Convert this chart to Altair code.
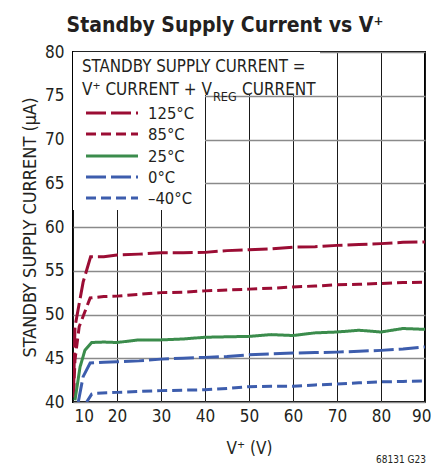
import altair as alt
import pandas as pd

# ---- data ----
series_names = ["125°C", "85°C", "25°C", "0°C", "–40°C"]

v_125 = [10.1, 10.45, 12.3, 14.0, 17, 20, 25, 30, 35, 40, 45, 50, 55, 60, 65, 70, 75, 80, 85, 90]
i_125 = [40.5, 48.6, 53.7, 56.6, 56.6, 56.8, 56.9, 57.05, 57.05, 57.1, 57.3, 57.4, 57.5, 57.7, 57.75, 57.9, 58.0, 58.1, 58.25, 58.3]

v_85 = [10.15, 10.45, 11.4, 13.9, 17, 20, 25, 30, 35, 40, 45, 50, 55, 60, 65, 70, 75, 80, 85, 90]
i_85 = [41.0, 44.8, 48.6, 51.9, 52.05, 52.1, 52.3, 52.5, 52.55, 52.7, 52.8, 52.9, 53.0, 53.15, 53.25, 53.4, 53.45, 53.55, 53.65, 53.7]

v_25 = [10.45, 11.6, 12.7, 14.25, 17, 20, 25, 30, 35, 40, 45, 50, 55, 60, 65, 70, 75, 80, 85, 90]
i_25 = [40.2, 44.0, 45.9, 46.8, 46.85, 46.8, 47.1, 47.1, 47.2, 47.4, 47.45, 47.5, 47.7, 47.6, 47.9, 48.0, 48.2, 48.0, 48.4, 48.3]

v_0 = [11.2, 12.3, 13.9, 17, 20, 25, 30, 35, 40, 45, 50, 55, 60, 65, 70, 75, 80, 85, 90]
i_0 = [40.0, 42.9, 44.45, 44.55, 44.6, 44.7, 44.9, 45.0, 45.1, 45.2, 45.4, 45.5, 45.6, 45.65, 45.7, 45.8, 45.9, 46.05, 46.3]

v_m40 = [13.1, 14.25, 15, 20, 25, 30, 35, 40, 45, 50, 55, 60, 65, 70, 75, 80, 85, 90]
i_m40 = [40.0, 40.9, 41.0, 41.1, 41.2, 41.3, 41.35, 41.4, 41.55, 41.75, 41.8, 41.8, 41.95, 42.05, 42.2, 42.3, 42.35, 42.4]

x_ticks = [10, 20, 30, 40, 50, 60, 70, 80, 90]
y_ticks = [40, 45, 50, 55, 60, 65, 70, 75, 80]

# ---- build table ----
rows = []
for name, vs, cs in zip(series_names, [v_125, v_85, v_25, v_0, v_m40], [i_125, i_85, i_25, i_0, i_m40]):
    for k, (v, c) in enumerate(zip(vs, cs)):
        rows.append({"series": name, "V": v, "I": c, "order": k})
df = pd.DataFrame(rows)

FONT = "'DejaVu Sans Condensed', Roboto, 'Liberation Sans', sans-serif"
TXT = "#231f20"
RED = "#9b0d34"
GREEN = "#3b8c4c"
BLUE = "#3d5dad"
LONG = [20, 5]
SHORT = [10, 5]

color_scale = alt.Scale(domain=series_names, range=[RED, RED, GREEN, BLUE, BLUE])
dash_scale = alt.Scale(domain=series_names, range=[LONG, SHORT, [1, 0], LONG, SHORT])

color_enc = alt.Color("series:N", scale=color_scale, legend=None)
dash_enc = alt.StrokeDash("series:N", scale=dash_scale, legend=None)

x_enc = alt.X("V:Q", scale=alt.Scale(domain=[10, 90], nice=False, zero=False),
              axis=alt.Axis(values=x_ticks, title="V⁺ (V)", grid=True, gridColor="#1a1a1a",
                            gridWidth=1, domain=False, ticks=False, labelFont=FONT,
                            labelFontSize=17, labelColor=TXT, labelPadding=6,
                            labelAlign=alt.expr("datum.value == 10 ? 'left' : datum.value == 90 ? 'right' : 'center'"),
                            labelOffset=alt.expr("datum.value == 90 ? 6 : datum.value == 10 ? 1 : 0"),
                            titleFont=FONT, titleFontSize=17, titleFontWeight="normal",
                            titleColor=TXT, titlePadding=16))
y_enc = alt.Y("I:Q", scale=alt.Scale(domain=[40, 80], nice=False, zero=False),
              axis=alt.Axis(values=y_ticks, title="STANDBY SUPPLY CURRENT (μA)", grid=True,
                            gridColor="#8a8a8a", gridWidth=1.5, domain=False, ticks=False,
                            labelFont=FONT, labelFontSize=17, labelColor=TXT, labelPadding=9,
                            titleFont=FONT, titleFontSize=18, titleFontWeight="normal",
                            titleColor=TXT, titlePadding=5))

lines = alt.Chart(df).mark_line(strokeWidth=3, clip=True).encode(
    x=x_enc, y=y_enc, color=color_enc, strokeDash=dash_enc, order="order:Q"
)

blank = pd.DataFrame({"a": [0]})

# white legend box (L shape) covering grid
box1 = alt.Chart(blank).mark_rect(color="white").encode(
    x=alt.value(0), x2=alt.value(247), y=alt.value(0), y2=alt.value(43))
box2 = alt.Chart(blank).mark_rect(color="white").encode(
    x=alt.value(0), x2=alt.value(132), y=alt.value(0), y2=alt.value(158))

layers = [box1, box2, lines]

def txt(s, x, y, size=17, align="left", baseline="alphabetic", weight="normal"):
    return alt.Chart(blank).mark_text(
        text=s, font=FONT, fontSize=size, align=align, baseline=baseline,
        fontWeight=weight, color=TXT
    ).encode(x=alt.value(x), y=alt.value(y))

layers.append(txt("STANDBY SUPPLY CURRENT =", 9, 20, size=16.8))
layers.append(txt("V⁺ CURRENT + V", 9, 43, size=17))
layers.append(txt("REG", 140, 49, size=12.5))
layers.append(txt("CURRENT", 169, 43, size=17))

row_y = [61, 82, 104, 125, 146]
for name, ry in zip(series_names, row_y):
    d = pd.DataFrame({"series": [name]})
    layers.append(alt.Chart(d).mark_rule(strokeWidth=3).encode(
        x=alt.value(13), x2=alt.value(65), y=alt.value(ry),
        color=color_enc, strokeDash=dash_enc))
    layers.append(txt(name, 75, ry + 1, size=16.5, baseline="middle"))

layers.append(txt("Standby Supply Current vs V⁺", 152, -20, size=21, align="center", weight="bold"))
layers.append(txt("68131 G23", 353, 411, size=10, align="right"))

chart = alt.layer(*layers).properties(
    width=352, height=350,
    autosize=alt.AutoSizeParams(type="none"),
    padding={"left": 65, "top": 44, "right": 6, "bottom": 63},
).configure_view(stroke="black", strokeWidth=2)

chart.save("out.html", embed_options={"renderer": "svg", "actions": False})
